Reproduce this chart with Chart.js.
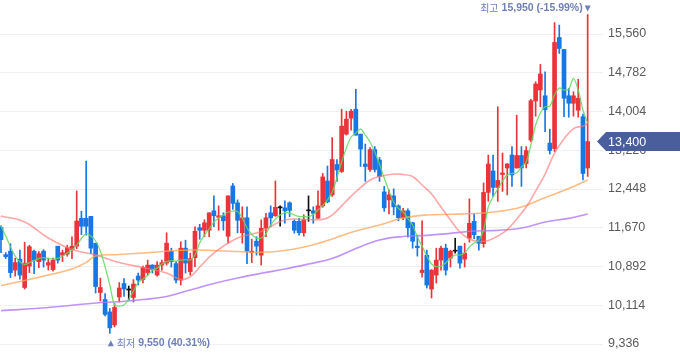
<!DOCTYPE html>
<html><head><meta charset="utf-8">
<script src="https://cdn.jsdelivr.net/npm/chart.js@4.4.0/dist/chart.umd.min.js"></script>
<style>html,body{margin:0;padding:0;background:#fff;overflow:hidden}canvas{display:block}</style>
</head><body>
<canvas id="c" width="680" height="358"></canvas>
<script>
// ---- data ----
const openP = [
11680,11130,11200,10820,11040,10470,10900,11200,10990,11200,
10920,10830,11300,11120,11140,11230,11300,11860,11860,11900,
11360,10370,10230,9980,9720,10280,10550,10420,10270,10700,
10630,10770,10920,10720,10920,10960,11200,10950,10620,11260,
10790,11070,11670,11620,11620,12010,11880,11910,11500,12510,
12170,11570,11870,11170,11400,11120,11660,11970,11910,12070,
12070,12170,11800,11800,11570,12010,12010,11860,12110,12610,
12330,12940,12800,13550,13870,14050,13550,12950,12840,13240,
13030,12390,12230,12310,12110,11870,12010,11770,11300,10770,
11120,10440,10720,11020,11260,11060,11200,11300,11040,11460,
11800,11500,11350,12380,12810,12480,12740,12870,13130,12870,
13120,12960,13430,14215,14436,14320,13370,13260,15490,15250,
14320,14170,14030,13900,12870];
const highP = [
11710,11170,11350,11060,11220,11380,11320,11220,11190,11230,
11060,11060,11300,11220,11320,11490,12410,12000,13010,11900,
11360,10660,10350,10050,10150,10570,10650,10500,10630,10760,
10900,11020,10930,10990,11020,11570,11260,10990,11390,11420,
11160,11690,11740,11830,11970,12310,12110,11970,12310,12560,
12230,12090,12090,11440,11490,11830,11960,12110,12610,12110,
12210,12190,11830,11860,11930,12310,12090,12410,12760,12910,
13480,13040,14050,14010,14050,14450,13550,13350,13280,13300,
13080,12500,12430,12450,12130,12060,12050,11780,11520,11810,
11220,10830,11260,11300,11340,11220,11460,11300,11360,12250,
11950,11500,12570,13130,13130,14100,13170,12960,13300,13930,
13300,13300,14250,14600,14950,14800,13650,15790,15740,15250,
14470,14400,14650,13950,15950];
const lowP = [
11170,11050,10670,10700,10640,10440,10770,10750,10870,10880,
10820,10800,10960,10990,11100,11050,11250,11530,11520,11150,
10360,10200,9900,9550,9680,10180,10290,10220,10180,10520,
10560,10720,10760,10700,10820,10920,10880,10560,10520,10760,
10720,10890,11440,11490,11490,11690,11620,11620,11360,12040,
11570,11360,10950,10970,11120,10920,11490,11690,11900,11700,
11760,11890,11560,11520,11500,11800,11760,11860,12080,12170,
12300,12600,12780,13530,13630,13530,12900,12600,12800,12790,
12600,12000,11950,11930,11810,11830,11480,11260,11100,10680,
10460,10260,10560,10820,10720,10880,11160,10860,10880,11380,
11450,11220,11280,12200,12300,12200,12400,12330,12500,12870,
12500,12870,13400,13910,14100,13600,13150,13200,15170,13900,
13890,13910,13890,12630,12700];
const closeP = [
11430,11090,10770,10970,10720,10960,11290,11020,11150,11020,
10970,11020,11020,11170,11270,11300,11805,11700,11700,11260,
10490,10470,9930,9660,10070,10460,10440,10420,10540,10620,
10870,10920,10830,10920,10970,11360,10990,10620,11260,10960,
11050,11600,11620,11770,11970,11910,11910,11810,12310,12160,
11820,11870,11200,11200,11300,11660,11870,11870,12080,12070,
12010,12020,11620,11570,11830,12010,11960,12110,12690,12190,
13040,12830,13710,13850,14010,13530,13250,12900,13240,12840,
12700,12070,12330,12090,11870,12010,11670,11400,11270,10820,
10520,10820,11020,11260,10820,11200,11200,10960,11160,11760,
11530,11360,12380,12950,12480,12620,12770,12950,12730,13120,
12870,13220,14220,14556,14757,14040,13220,15390,15270,14270,
14170,14320,14270,12760,13400];
// 5-day average (read per candle)
const ma5 = [
11705,11504,11290,11102,10988,10932,10968,11012,11056,11072,
11056,11042,11056,11102,11163,11223,11323,11454,11554,11504,
11404,11203,10887,10520,10118,10098,10118,10239,10399,10570,
10640,10711,10821,10861,10942,10992,11012,11002,11022,11032,
11022,11122,11363,11524,11644,11785,11865,11926,11986,12006,
11996,11865,11665,11534,11464,11464,11544,11725,11845,11926,
11976,11966,11926,11896,11892,11892,11936,12026,12116,12227,
12387,12669,12989,13271,13492,13572,13653,13532,13391,13191,
12950,12669,12408,12187,12056,11986,11855,11725,11484,11303,
11102,10942,10891,10901,10962,11062,11122,11122,11163,11283,
11363,11424,11624,12086,12287,12448,12608,12729,12763,12769,
12889,12990,13331,13733,13974,14100,14114,14335,14476,14436,
14456,14670,14436,14034,13773];
// 20-day average (read at these candle positions)
const ma20Days = [0,5,10,15,20,25,30,35,38,40,42,45,50,55,60,65,68,70,73,75,78,80,83,85,87,89,91,93,95,97,99,101,103,105,107,109,111,113,115,117,119,121,123,124];
const ma20 = [11906,11785,11464,11233,11122,10972,10871,10761,10630,10686,10881,11163,11464,11594,11825,11835,11839,11926,12207,12393,12628,12699,12749,12739,12699,12528,12347,12086,11825,11584,11444,11394,11414,11504,11634,11845,12086,12407,12749,13170,13452,13662,13712,13763];
// 60-day average
const ma60Days = [0,5,10,15,18,20,25,30,40,50,55,60,65,70,75,80,85,90,95,100,105,110,115,120,124];
const ma60 = [10510,10610,10721,10841,10972,11102,11132,11163,11223,11193,11177,11213,11303,11444,11604,11725,11865,11926,11940,11956,11996,12086,12277,12458,12628];
// 120-day average
const ma120Days = [0,10,20,25,30,35,40,45,50,55,60,65,70,75,80,85,90,95,100,105,110,115,120,124];
const ma120 = [10004,10068,10159,10185,10229,10289,10420,10550,10660,10755,10841,10942,11052,11253,11424,11494,11518,11558,11604,11618,11664,11785,11859,11946];
// price-axis tick labels
const tickValues = [9336,10114,10892,11670,12448,13226,14004,14782,15560];

// ---- styling ----
const RED = '#ea3439', BLUE = '#1677e5', DOJI = '#111111';
const n = closeP.length;
const candleColor = openP.map((o, i) => closeP[i] > o ? RED : (closeP[i] < o ? BLUE : DOJI));
const fmt = v => v.toLocaleString('en-US');
const pts = (days, vals) => days.map((d, i) => ({x: d, y: vals[i]}));

const annot = {
  id: 'annot',
  afterDraw(chart) {
    const {ctx, scales: {x, y}, chartArea} = chart;
    const hiVal = Math.max(...highP), hiIdx = highP.indexOf(hiVal);
    const loVal = Math.min(...lowP), loIdx = lowP.indexOf(loVal);
    const last = closeP[n - 1];
    const hiPct = ((last - hiVal) / hiVal * 100).toFixed(2);
    const loPct = ((last - loVal) / loVal * 100).toFixed(2);
    const col = '#6f80b6';
    const kF = '10px "Noto Sans CJK KR", sans-serif';
    const bF = 'bold 10.5px "Liberation Sans", Arial, sans-serif';
    ctx.save();
    ctx.fillStyle = col;
    ctx.textBaseline = 'middle';
    // high marker
    const hx = x.getPixelForValue(hiIdx), hy = y.getPixelForValue(hiVal) - 6;
    ctx.beginPath();
    ctx.moveTo(hx - 3, hy - 3); ctx.lineTo(hx + 3, hy - 3); ctx.lineTo(hx, hy + 3); ctx.closePath(); ctx.fill();
    ctx.textAlign = 'right';
    ctx.font = bF;
    const t1 = fmt(hiVal) + ' (' + hiPct + '%)';
    ctx.fillText(t1, hx - 5, hy);
    const w1 = ctx.measureText(t1).width;
    ctx.font = kF;
    ctx.fillText('최고', hx - 8 - w1, hy);
    // low marker
    const lx = x.getPixelForValue(loIdx) + 1, ly = y.getPixelForValue(loVal) + 10;
    ctx.beginPath();
    ctx.moveTo(lx - 3, ly + 3); ctx.lineTo(lx + 3, ly + 3); ctx.lineTo(lx, ly - 3); ctx.closePath(); ctx.fill();
    ctx.textAlign = 'left';
    ctx.font = kF;
    ctx.fillText('최저', lx + 6, ly);
    const w2 = ctx.measureText('최저').width;
    ctx.font = bF;
    ctx.fillText(fmt(loVal) + ' (' + loPct + '%)', lx + 9 + w2, ly);
    // current price tag
    const py = y.getPixelForValue(last);
    const tx = chartArea.right - 6;
    ctx.fillStyle = '#4a5e9c';
    ctx.beginPath();
    ctx.moveTo(tx, py);
    ctx.lineTo(tx + 9, py - 9.5);
    ctx.lineTo(680, py - 9.5);
    ctx.lineTo(680, py + 9.5);
    ctx.lineTo(tx + 9, py + 9.5);
    ctx.closePath();
    ctx.fill();
    ctx.fillStyle = '#ffffff';
    ctx.font = '12.5px "Liberation Sans", Arial, sans-serif';
    ctx.textAlign = 'left';
    ctx.fillText(fmt(last), chartArea.right + 5, py + 0.5);
    ctx.restore();
  }
};

new Chart(document.getElementById('c'), {
  type: 'bar',
  data: {
    datasets: [
      {type: 'line', data: ma5.map((v, i) => ({x: i, y: v})), borderColor: 'rgba(100,215,100,0.85)', borderWidth: 1.3, pointRadius: 0, tension: 0.3, order: 0},
      {type: 'line', data: pts(ma20Days, ma20), borderColor: 'rgba(255,120,120,0.65)', borderWidth: 1.6, pointRadius: 0, tension: 0.4, order: 0},
      {type: 'line', data: pts(ma60Days, ma60), borderColor: 'rgba(255,165,90,0.75)', borderWidth: 1.6, pointRadius: 0, tension: 0.4, order: 0},
      {type: 'line', data: pts(ma120Days, ma120), borderColor: 'rgba(175,120,245,0.8)', borderWidth: 1.6, pointRadius: 0, tension: 0.4, order: 0},
      {type: 'bar', data: openP.map((o, i) => ({x: i, y: [o, closeP[i]]})), backgroundColor: candleColor, barThickness: 4, minBarLength: 1, grouped: false, borderWidth: 0, order: 1},
      {type: 'bar', data: highP.map((h, i) => ({x: i, y: [lowP[i], h]})), backgroundColor: candleColor, barThickness: 1, grouped: false, borderWidth: 0, order: 2}
    ]
  },
  options: {
    responsive: false, animation: false, devicePixelRatio: 1,
    layout: {padding: 0},
    plugins: {legend: {display: false}, tooltip: {enabled: false}},
    scales: {
      x: {type: 'linear', min: -0.21, max: 127.24, offset: false, display: false, grid: {offset: false}},
      y: {
        position: 'right', min: 9055, max: 16243,
        afterBuildTicks: s => { s.ticks = tickValues.map(v => ({value: v})); },
        afterFit: s => { s.width = 77; s.paddingTop = 0; s.paddingBottom = 0; },
        grid: {color: '#eef0f4', lineWidth: 1, drawTicks: false},
        border: {display: false},
        ticks: {padding: 5, color: '#5a5a5a', font: {size: 12.5, family: '"Liberation Sans", Arial, sans-serif'}, callback: v => fmt(v)}
      }
    }
  },
  plugins: [annot]
});
</script>
</body></html>
